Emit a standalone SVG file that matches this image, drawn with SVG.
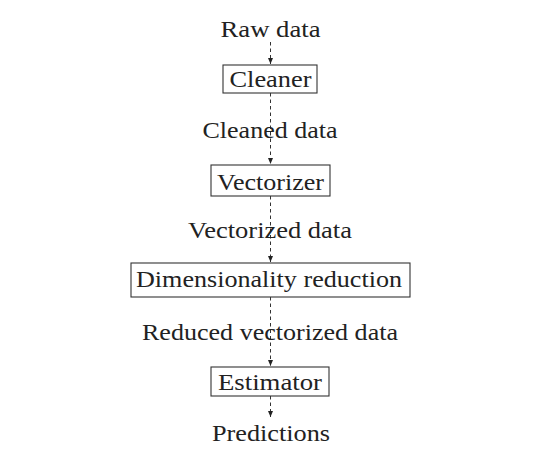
<svg xmlns="http://www.w3.org/2000/svg" width="560" height="463" viewBox="0 0 560 463">
<style>
text{font-family:"Liberation Serif","Times New Roman",serif;font-size:24px;font-weight:normal;fill:#222;text-anchor:middle}
.box{fill:#fff;stroke:#333;stroke-width:1.1}
.edge{stroke:#333;stroke-width:1;stroke-dasharray:3.5,3;fill:none}
</style>
<defs>
<marker id="ah" viewBox="0 0 6 6" refX="6" refY="3" markerWidth="6" markerHeight="6" orient="auto" markerUnits="userSpaceOnUse">
<path d="M0,0.5 L6,3 L0,5.5 Z" fill="#222"/>
</marker>
</defs>
<rect width="560" height="463" fill="#fff"/>
<g id="connectors">
<line class="edge" x1="270.5" y1="42" x2="270.5" y2="64" marker-end="url(#ah)"/>
<line class="edge" x1="270.5" y1="93" x2="270.5" y2="164" marker-end="url(#ah)"/>
<line class="edge" x1="270.5" y1="196" x2="270.5" y2="262" marker-end="url(#ah)"/>
<line class="edge" x1="270.5" y1="297" x2="270.5" y2="366" marker-end="url(#ah)"/>
<line class="edge" x1="270.5" y1="396" x2="270.5" y2="417" marker-end="url(#ah)"/>
</g>
<g id="raw"><text x="270.5" y="37" textLength="100" lengthAdjust="spacingAndGlyphs">Raw data</text></g>
<g id="cleaner"><rect class="box" x="223" y="65" width="94" height="28"/><text x="270.5" y="87" textLength="82" lengthAdjust="spacingAndGlyphs">Cleaner</text></g>
<g id="cleaned"><text x="270" y="138" textLength="135" lengthAdjust="spacingAndGlyphs">Cleaned data</text></g>
<g id="vectorizer"><rect class="box" x="211" y="165" width="119" height="31"/><text x="270.5" y="190" textLength="107" lengthAdjust="spacingAndGlyphs">Vectorizer</text></g>
<g id="vectorized"><text x="270" y="238" textLength="164" lengthAdjust="spacingAndGlyphs">Vectorized data</text></g>
<g id="dimred"><rect class="box" x="131" y="263" width="279" height="34"/><text x="269" y="287" textLength="266" lengthAdjust="spacingAndGlyphs">Dimensionality reduction</text></g>
<g id="reduced"><text x="270" y="340" textLength="256" lengthAdjust="spacingAndGlyphs">Reduced vectorized data</text></g>
<g id="estimator"><rect class="box" x="211" y="367" width="118" height="29"/><text x="270" y="390" textLength="104" lengthAdjust="spacingAndGlyphs">Estimator</text></g>
<g id="predictions"><text x="271" y="441" textLength="118" lengthAdjust="spacingAndGlyphs">Predictions</text></g>
</svg>
